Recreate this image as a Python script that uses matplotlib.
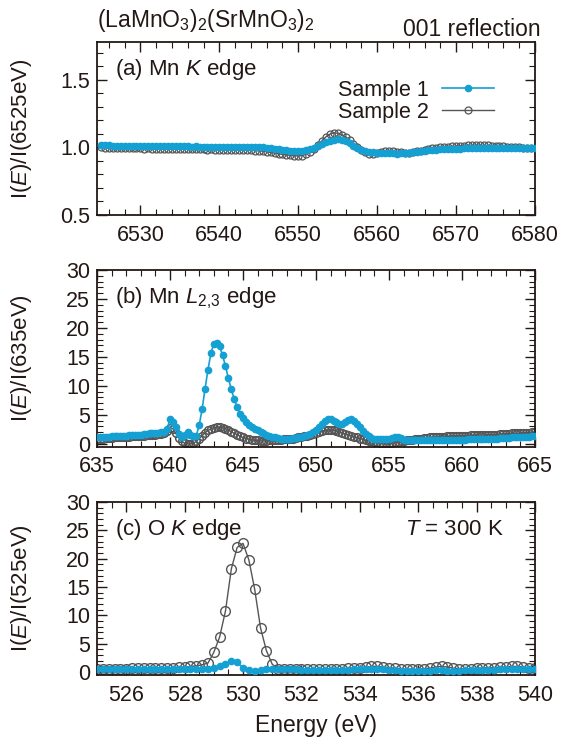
import numpy as np
import matplotlib
matplotlib.use("Agg")
import matplotlib.pyplot as plt
from matplotlib.ticker import MultipleLocator, FormatStrFormatter

plt.rcParams['font.family'] = ['Liberation Sans', 'DejaVu Sans']
plt.rcParams['mathtext.fontset'] = 'custom'
plt.rcParams['mathtext.rm'] = 'Liberation Sans'
plt.rcParams['mathtext.it'] = 'Liberation Sans:italic'

blue = '#14a0d2'
grey = '#555555'
ink = '#231815'
fs = 15.5

# (a) Mn K edge, 0.5 eV steps
e_k = np.arange(6525, 6580.01, 0.5)
mnk_s1 = [
    1.018, 1.016, 1.015, 1.014, 1.013, 1.012, 1.013, 1.012, 1.011, 1.010, 1.011,
    1.010, 1.010, 1.009, 1.010, 1.009, 1.008, 1.009, 1.008, 1.007, 1.008,
    1.007, 1.008, 1.006, 1.007, 1.006, 1.005, 1.006, 1.005, 1.004, 1.005,
    1.004, 1.004, 1.003, 1.004, 1.003, 1.003, 1.002, 1.003, 1.002, 1.001,
    1.000, 0.998, 0.995, 0.992, 0.988, 0.984, 0.980, 0.977, 0.975, 0.974,
    0.976, 0.980, 0.988, 0.998, 1.010, 1.024, 1.038, 1.050, 1.058, 1.060,
    1.055, 1.045, 1.030, 1.012, 0.995, 0.982, 0.972, 0.966, 0.963, 0.961,
    0.960, 0.958, 0.957, 0.956, 0.955, 0.956, 0.958, 0.962, 0.966, 0.968,
    0.970, 0.974, 0.978, 0.981, 0.984, 0.986, 0.988, 0.990, 0.991, 0.991,
    0.992, 0.993, 0.993, 0.994, 0.994, 0.995, 0.995, 0.994, 0.995, 0.995,
    0.994, 0.995, 0.994, 0.995, 0.994, 0.993, 0.994, 0.993, 0.994, 0.994,
]
mnk_s2 = [
    1.000, 0.998, 0.997, 0.996, 0.996, 0.995, 0.995, 0.994, 0.994, 0.993, 0.993,
    0.992, 0.993, 0.992, 0.991, 0.991, 0.990, 0.990, 0.989, 0.990, 0.989,
    0.988, 0.988, 0.987, 0.986, 0.986, 0.985, 0.984, 0.985, 0.984, 0.983,
    0.982, 0.983, 0.982, 0.981, 0.980, 0.980, 0.979, 0.978, 0.977, 0.975,
    0.972, 0.968, 0.963, 0.958, 0.953, 0.948, 0.944, 0.941, 0.938, 0.937,
    0.940, 0.950, 0.968, 0.992, 1.020, 1.050, 1.078, 1.098, 1.108, 1.105,
    1.095, 1.078, 1.055, 1.028, 1.000, 0.978, 0.963, 0.955, 0.955, 0.960,
    0.966, 0.970, 0.972, 0.970, 0.967, 0.964, 0.962, 0.962, 0.965, 0.970,
    0.976, 0.982, 0.988, 0.993, 0.997, 1.000, 1.003, 1.005, 1.008, 1.010,
    1.012, 1.014, 1.016, 1.017, 1.018, 1.017, 1.016, 1.015, 1.013, 1.011,
    1.009, 1.007, 1.005, 1.003, 1.001, 1.000, 0.999, 0.998, 0.998, 0.997,
]

# (b) Mn L2,3 edge, 0.2 eV steps
e_l = np.arange(635, 665.01, 0.2)
mnl_s1 = [
    1.1, 1.1, 1.2, 1.2, 1.2,   1.3, 1.3, 1.3, 1.4, 1.4,
    1.4, 1.5, 1.5, 1.5, 1.6,   1.6, 1.7, 1.7, 1.8, 1.8,
    1.9, 1.9, 2.0, 2.1, 2.6,   4.2, 3.8, 2.9, 1.7, 1.1,
    1.5, 2.0, 1.6, 1.3, 1.4,   3.2, 6.0, 9.5, 12.8, 15.6,
    17.3, 17.4, 16.8, 15.3, 13.4,   11.3, 9.4, 7.7, 6.3, 5.2,
    4.4, 3.8, 3.3, 2.9, 2.6,   2.3, 2.0, 1.8, 1.6, 1.4,
    1.2, 1.1, 1.0, 0.9, 0.9,   0.9, 0.9, 1.0, 1.0, 1.1,
    1.2, 1.3, 1.5, 1.7, 2.0,   2.4, 2.9, 3.4, 3.9, 4.2,
    4.2, 4.0, 3.7, 3.5, 3.5,   3.8, 4.1, 4.2, 4.0, 3.5,
    2.9, 2.2, 1.7, 1.3, 1.0,   0.9, 0.8, 0.8, 0.9, 0.9,
    0.9, 1.0, 1.1, 1.1, 1.0,   0.7, 0.6, 0.6, 0.6, 0.6,
    0.6, 0.6, 0.6, 0.6, 0.6,   0.6, 0.6, 0.6, 0.6, 0.7,
    0.7, 0.7, 0.7, 0.7, 0.7,   0.7, 0.7, 0.8, 0.8, 0.8,
    0.8, 0.8, 0.8, 0.9, 0.9,   0.9, 0.9, 0.9, 1.0, 1.0,
    1.0, 1.0, 1.1, 1.1, 1.1,   1.1, 1.2, 1.2, 1.2, 1.3,
    1.3,
]
mnl_s2 = [
    0.9, 0.9, 0.9, 1.0, 1.0,   1.0, 1.1, 1.1, 1.1, 1.2,
    1.2, 1.2, 1.3, 1.3, 1.4,   1.4, 1.4, 1.5, 1.5, 1.6,
    1.6, 1.7, 1.7, 1.8, 2.2,   2.8, 2.6, 1.8, 1.0, 0.4,
    0.1, 0.0, 0.0, 0.1, 0.4,   0.9, 1.4, 1.9, 2.3, 2.6,
    2.8, 2.9, 2.9, 2.8, 2.6,   2.4, 2.1, 1.8, 1.6, 1.3,
    1.1, 0.9, 0.8, 0.7, 0.6,   0.6, 0.5, 0.5, 0.5, 0.6,
    0.6, 0.6, 0.7, 0.7, 0.8,   0.8, 0.9, 0.9, 1.0, 1.1,
    1.2, 1.3, 1.4, 1.6, 1.7,   1.9, 2.0, 2.2, 2.3, 2.4,
    2.4, 2.3, 2.2, 2.1, 1.9,   1.7, 1.6, 1.4, 1.2, 1.1,
    0.9, 0.8, 0.6, 0.5, 0.4,   0.3, 0.3, 0.2, 0.2, 0.2,
    0.2, 0.2, 0.3, 0.3, 0.4,   0.5, 0.6, 0.6, 0.7, 0.8,
    0.9, 0.9, 1.0, 1.0, 1.1,   1.1, 1.1, 1.2, 1.2, 1.2,
    1.3, 1.3, 1.3, 1.3, 1.4,   1.4, 1.4, 1.4, 1.5, 1.5,
    1.5, 1.5, 1.5, 1.5, 1.6,   1.6, 1.6, 1.6, 1.7, 1.7,
    1.7, 1.7, 1.8, 1.8, 1.8,   1.8, 1.9, 1.9, 1.9, 2.0,
    2.0,
]

# (c) O K edge, 0.2 eV steps
e_o = np.arange(525, 540.01, 0.2)
ok_s1 = [
    0.5, 0.5, 0.5, 0.5, 0.5,   0.5, 0.5, 0.5, 0.5, 0.5,
    0.5, 0.5, 0.5, 0.5, 0.5,   0.5, 0.5, 0.5, 0.5, 0.5,
    0.7, 1.0, 1.5, 1.9, 1.7,   0.8, 0.3, 0.2, 0.4, 0.5,
    0.5, 0.5, 0.5, 0.5, 0.5,   0.4, 0.4, 0.4, 0.4, 0.4,
    0.4, 0.4, 0.4, 0.4, 0.5,   0.5, 0.6, 0.6, 0.6, 0.5,
    0.4, 0.3, 0.2, 0.2, 0.2,   0.2, 0.2, 0.2, 0.3, 0.3,
    0.2, 0.2, 0.2, 0.3, 0.3,   0.3, 0.4, 0.4, 0.4, 0.5,
    0.5, 0.5, 0.5, 0.6, 0.6,   0.6,
]
ok_s2 = [
    0.6, 0.6, 0.6, 0.6, 0.6,   0.6, 0.7, 0.7, 0.7, 0.7,
    0.7, 0.8, 0.8, 0.8, 0.9,   0.9, 1.0, 1.1, 1.3, 1.6,
    3.5, 6.2, 10.8, 18.2, 22.0,   22.7, 19.8, 14.6, 7.8, 3.8,
    1.4, 0.6, 0.5, 0.5, 0.5,   0.5, 0.5, 0.5, 0.5, 0.6,
    0.6, 0.6, 0.6, 0.7, 0.7,   0.8, 0.9, 1.0, 1.0, 0.9,
    0.8, 0.7, 0.6, 0.5, 0.5,   0.5, 0.6, 0.7, 0.9, 1.0,
    0.9, 0.7, 0.6, 0.6, 0.6,   0.7, 0.7, 0.8, 0.8, 0.9,
    0.9, 1.0, 1.0, 0.9, 0.8,   0.8,
]

fig = plt.figure(figsize=(5.65, 7.45), dpi=100)
ax_a = fig.add_axes([0.1717, 0.7114, 0.7752, 0.2322])
ax_b = fig.add_axes([0.1717, 0.4004, 0.7752, 0.2372])
ax_c = fig.add_axes([0.1717, 0.0940, 0.7752, 0.2322])

s1_style = dict(color=blue, marker='o', ms=4.5, mfc=blue, mec=blue, lw=1.2)
s2_style = dict(color=grey, marker='o', ms=5, mfc='none', mec=grey, mew=0.9, lw=1.0)
s2_dense = dict(s2_style, ms=5.5, mew=1.1)
s2_sparse = dict(s2_style, ms=7, mew=1.0, lw=1.0)

ax_a.plot(e_k, mnk_s2, label='Sample 2', zorder=2, **s2_style)
ax_a.plot(e_k, mnk_s1, label='Sample 1', zorder=3, **s1_style)
ax_b.plot(e_l, mnl_s2, zorder=2, **s2_dense)
ax_b.plot(e_l, mnl_s1, zorder=3, **s1_style)
ax_c.plot(e_o, ok_s2, zorder=2, **s2_sparse)
ax_c.plot(e_o, ok_s1, zorder=3, **s1_style)

ax_a.set_xlim(6524.5, 6580)
ax_a.set_ylim(0.5, 1.78)
ax_a.xaxis.set_major_locator(MultipleLocator(10))
ax_a.xaxis.set_minor_locator(MultipleLocator(2))
ax_a.yaxis.set_major_locator(MultipleLocator(0.5))
ax_a.yaxis.set_minor_locator(MultipleLocator(0.1))
ax_a.yaxis.set_major_formatter(FormatStrFormatter('%.1f'))

ax_b.set_xlim(635, 665)
ax_b.set_ylim(-0.5, 30)
ax_b.xaxis.set_major_locator(MultipleLocator(5))
ax_b.xaxis.set_minor_locator(MultipleLocator(1))
ax_b.yaxis.set_major_locator(MultipleLocator(5))
ax_b.yaxis.set_minor_locator(MultipleLocator(1))

ax_c.set_xlim(525, 540)
ax_c.set_ylim(-0.5, 30)
ax_c.xaxis.set_major_locator(MultipleLocator(2))
ax_c.xaxis.set_minor_locator(MultipleLocator(0.5))
ax_c.yaxis.set_major_locator(MultipleLocator(5))
ax_c.yaxis.set_minor_locator(MultipleLocator(1))

for ax in (ax_a, ax_b, ax_c):
    ax.tick_params(which='both', direction='in', top=True, right=True,
                   labelsize=fs, color=ink, labelcolor=ink)
    ax.tick_params(which='major', length=7, width=1)
    ax.tick_params(which='minor', length=4, width=0.8)
    ax.tick_params(axis='x', pad=7)
    ax.tick_params(axis='y', pad=5)
    for sp in ax.spines.values():
        sp.set_linewidth(1.3)
        sp.set_color(ink)

lab = dict(fontsize=16, color=ink)
txt = dict(fontsize=16.5, color=ink)
ax_a.set_ylabel('I($E$)/I(6525eV)', **lab)
ax_b.set_ylabel('I($E$)/I(635eV)', **lab)
ax_c.set_ylabel('I($E$)/I(525eV)', **lab)
for ax in (ax_a, ax_b, ax_c):
    ax.yaxis.set_label_coords(-0.145, 0.5)
ax_c.set_xlabel('Energy (eV)', labelpad=6, **txt)

ax_a.text(0.04, 0.84, '(a) Mn $K$ edge', transform=ax_a.transAxes, va='center', **lab)
ax_b.text(0.04, 0.84, '(b) Mn $L_{2{,}3}$ edge', transform=ax_b.transAxes, va='center', **lab)
ax_c.text(0.04, 0.84, '(c) O $K$ edge', transform=ax_c.transAxes, va='center', **lab)
ax_c.text(0.93, 0.84, '$T$ = 300 K', transform=ax_c.transAxes, va='center', ha='right', **lab)

fig.text(0.172, 0.973, '(LaMnO$_3$)$_2$(SrMnO$_3$)$_2$', va='center', **txt)
fig.text(0.957, 0.96, '001 reflection', va='center', ha='right', **txt)

handles, labels = ax_a.get_legend_handles_labels()
ax_a.legend(handles[::-1], labels[::-1], loc='upper right', bbox_to_anchor=(0.95, 0.895),
            frameon=False, markerfirst=False, handlelength=2.4, handletextpad=0.6,
            labelspacing=0.05, prop={'size': fs}, labelcolor=ink)

fig.savefig('out.png', dpi=100)
